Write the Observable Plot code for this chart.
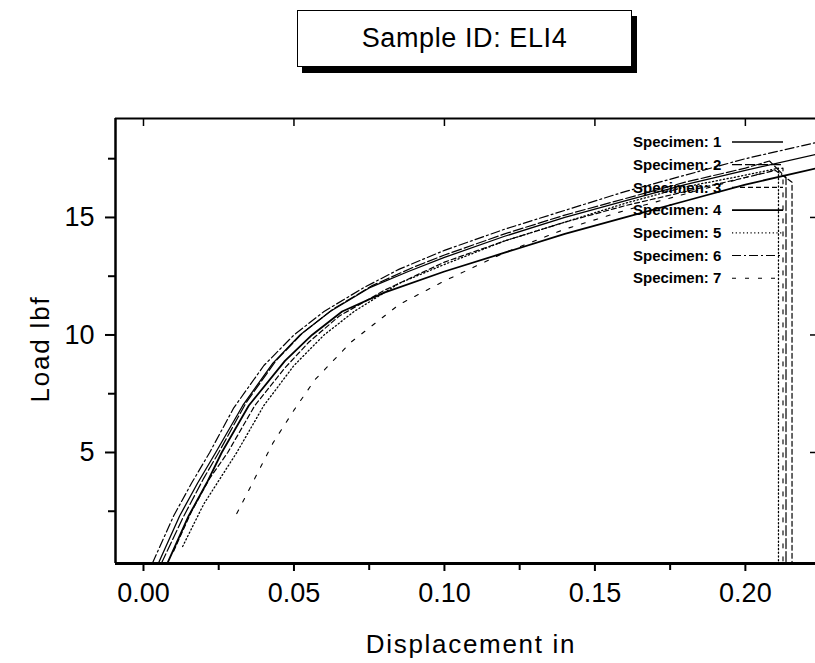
<!DOCTYPE html>
<html><head><meta charset="utf-8">
<script src="https://cdn.jsdelivr.net/npm/d3@7"></script>
<script src="https://cdn.jsdelivr.net/npm/@observablehq/plot@0.6"></script>
<style>
body{margin:0;background:#fff;font-family:"Liberation Sans",Arial,sans-serif;}
#wrap{position:relative;width:815px;height:663px;overflow:hidden;}
#title{position:absolute;left:297px;top:10px;width:333px;height:55px;border:1.5px solid #000;box-shadow:5px 6px 0 #000;background:#fff;font-size:27px;line-height:55px;text-align:center;letter-spacing:0.6px;color:#000;font-family:"Liberation Sans",Arial,sans-serif;}
</style></head><body><div id="wrap"><div id="title"></div></div>
<script>
const titleText = "Sample ID: ELI4";
const xLabel = "Displacement in";
const yLabel = "Load lbf";
const specimens = ["Specimen: 1","Specimen: 2","Specimen: 3","Specimen: 4","Specimen: 5","Specimen: 6","Specimen: 7"];

const s1x = [0.005,0.012,0.018,0.024,0.033,0.043,0.052,0.062,0.075,0.088,0.100,0.120,0.140,0.160,0.180,0.200,0.224];
const s1y = [0.3,2.3,3.7,5.0,7.0,8.8,10.0,11.0,12.0,12.7,13.3,14.2,15.0,15.7,16.4,17.0,17.7];
const s2x = [0.006,0.013,0.020,0.025,0.034,0.044,0.053,0.063,0.076,0.090,0.100,0.120,0.140,0.160,0.180,0.200,0.208,0.2135,0.2135];
const s2y = [0.3,2.2,3.9,5.0,7.1,8.9,10.1,11.1,12.1,12.9,13.4,14.3,15.1,15.8,16.5,17.1,17.4,16.7,0.3];
const s3x = [0.010,0.016,0.022,0.028,0.037,0.047,0.055,0.065,0.080,0.100,0.120,0.140,0.160,0.180,0.200,0.210,0.2155,0.2155];
const s3y = [0.8,2.5,3.9,5.0,7.0,8.6,9.7,10.8,11.9,13.1,14.0,14.8,15.5,16.1,16.7,17.0,16.5,0.3];
const s4x = [0.008,0.015,0.021,0.026,0.035,0.047,0.056,0.066,0.080,0.100,0.120,0.140,0.160,0.180,0.200,0.224];
const s4y = [0.3,2.3,3.7,5.0,7.0,8.9,10.0,11.0,11.8,12.7,13.5,14.3,15.0,15.7,16.4,17.1];
const s5x = [0.013,0.020,0.026,0.031,0.040,0.050,0.060,0.070,0.085,0.100,0.120,0.140,0.160,0.180,0.200,0.211,0.211];
const s5y = [1.0,2.8,4.0,5.0,7.0,8.7,10.0,11.0,12.2,13.0,14.0,14.8,15.6,16.3,16.8,17.1,0.3];
const s6x = [0.003,0.010,0.016,0.022,0.030,0.040,0.050,0.060,0.073,0.085,0.100,0.120,0.140,0.160,0.180,0.200,0.224];
const s6y = [0.3,2.3,3.7,5.0,6.9,8.7,10.0,11.0,12.0,12.8,13.6,14.5,15.3,16.1,16.8,17.5,18.2];
const s7x = [0.031,0.037,0.043,0.050,0.057,0.069,0.085,0.100,0.120,0.140,0.160,0.180,0.200,0.2125,0.2125];
const s7y = [2.4,3.9,5.4,6.8,8.1,9.7,11.3,12.3,13.5,14.5,15.3,16.0,16.7,17.1,0.3];

const xMajor = [0.00,0.05,0.10,0.15,0.20];
const xMinor = [0.025,0.075,0.125,0.175];
const yMajor = [5,10,15];
const yMinor = [2.5,7.5,12.5,17.5];
const xDomain = [-0.0093, 0.2233];
const yDomain = [0.2766, 19.21];

const xs = [s1x,s2x,s3x,s4x,s5x,s6x,s7x];
const ys = [s1y,s2y,s3y,s4y,s5y,s6y,s7y];
const styles = [
  {dash:null, w:1.3},
  {dash:"10,3", w:1.2},
  {dash:"5,3", w:1.2},
  {dash:null, w:1.8},
  {dash:"1.2,2.5", w:1.3},
  {dash:"9,3,2,3", w:1.2},
  {dash:"4,9", w:1.1}
];

const rows = specimens.map((name,i) => xs[i].map((x,j) => ({name, x, y: ys[i][j]})));

const curveMarks = rows.map((r,i) => Plot.line(r, {x:"x", y:"y", stroke:"black", strokeWidth:styles[i].w, strokeDasharray:styles[i].dash, clip:true}));

const chart = Plot.plot({
  width: 815, height: 663,
  marginLeft: 115, marginRight: 0, marginTop: 118, marginBottom: 100,
  style: {fontFamily: "'Liberation Sans', Arial, sans-serif", color: "black", background: "white"},
  x: {domain: xDomain},
  y: {domain: yDomain},
  marks: [
    ...curveMarks,
    Plot.ruleX([xDomain[0]], {strokeWidth: 2.5}),
    Plot.ruleY([yDomain[0]], {strokeWidth: 3}),
    Plot.ruleY([yDomain[1]], {strokeWidth: 2}),
    Plot.axisX({ticks: xMajor, anchor: "bottom", tickSize: 8, tickPadding: 11, tickFormat: d3.format(".2f"), fontSize: 27, strokeWidth: 2, label: null}),
    Plot.axisX({ticks: xMinor, anchor: "bottom", tickSize: 7, tickFormat: () => "", strokeWidth: 2, label: null}),
    Plot.axisX({ticks: xMajor, anchor: "top", tickSize: 7, dy: 7, tickFormat: () => "", strokeWidth: 1.5, label: null}),
    Plot.axisY({ticks: yMajor, anchor: "left", tickSize: 10, tickPadding: 11, fontSize: 27, strokeWidth: 2, label: null}),
    Plot.axisY({ticks: yMinor, anchor: "left", tickSize: 7, tickFormat: () => "", strokeWidth: 2, label: null}),
    Plot.axisY({ticks: yMajor, anchor: "right", tickSize: 6, dx: -6, tickFormat: () => "", strokeWidth: 1.5, label: null})
  ]
});

const svg = d3.select(chart);
svg.style("position","absolute").style("left","0px").style("top","0px");
svg.append("text").attr("x", 471).attr("y", 653).attr("text-anchor","middle")
  .attr("font-size", 26).attr("letter-spacing", "1.7px").attr("fill","black").text(xLabel);
svg.append("text").attr("transform","translate(49,349) rotate(-90)").attr("text-anchor","middle")
  .attr("font-size", 26).attr("letter-spacing", "1.8px").attr("fill","black").text(yLabel);

const lg = svg.append("g").attr("text-anchor","start");
specimens.forEach((name,i) => {
  const yy = 142 + i*22.7;
  lg.append("text").attr("x", 633).attr("y", yy).attr("dy","0.35em").attr("font-size", 15)
    .attr("font-weight","bold").attr("text-anchor","start").attr("fill","black").text(name);
  lg.append("line").attr("x1", 732).attr("x2", 783).attr("y1", yy).attr("y2", yy)
    .attr("stroke","black").attr("stroke-width", styles[i].w).attr("stroke-dasharray", styles[i].dash);
});

const wrap = document.getElementById("wrap");
wrap.insertBefore(chart, wrap.firstChild);
document.getElementById("title").textContent = titleText;
</script>
</body></html>
